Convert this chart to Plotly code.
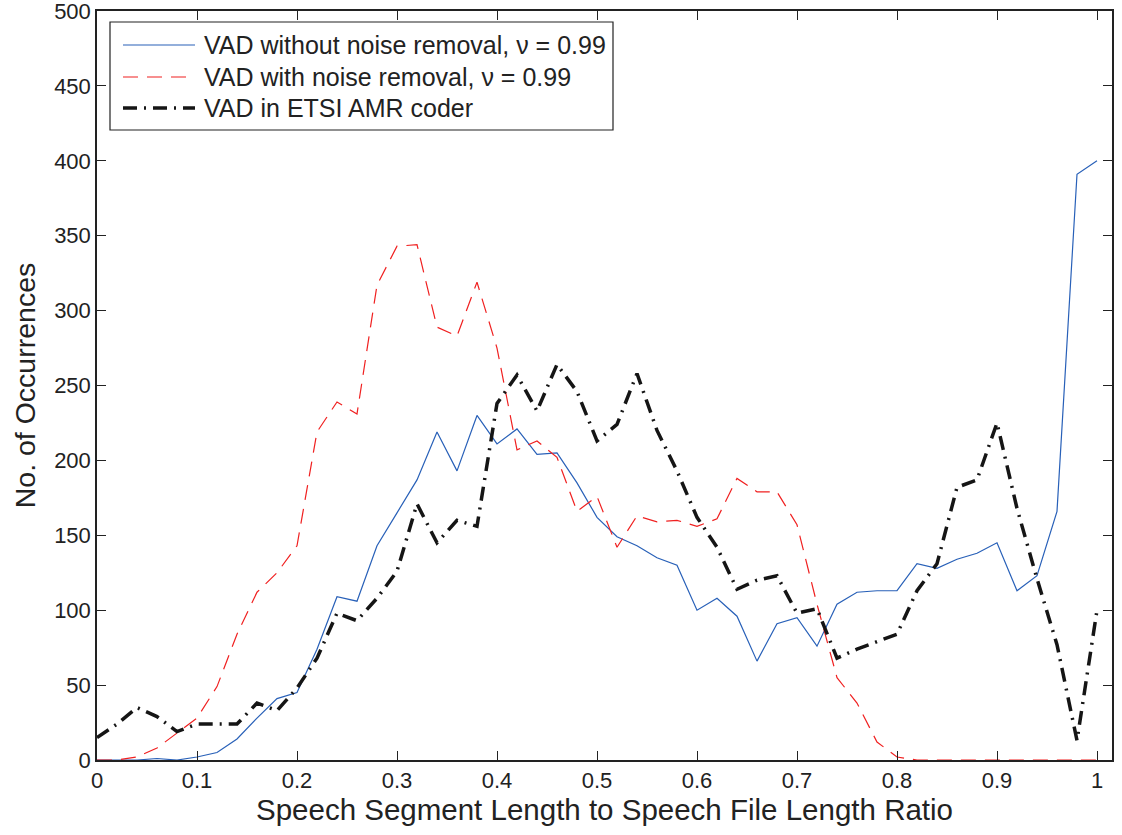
import plotly.graph_objects as go

ratio = [round(i * 0.02, 2) for i in range(51)]

vad_no_nr = [0, 0, 0, 1, 0, 2, 5, 14, 28, 41, 45, 74, 109, 106, 143, 165, 187, 219, 193, 230,
             211, 221, 204, 205, 185, 162, 149, 143, 135, 130, 100, 108, 96, 66, 91, 95, 76, 104,
             112, 113, 113, 131, 128, 134, 138, 145, 113, 123, 166, 391, 400]

vad_nr = [0, 0, 2, 8, 18, 28, 49, 84, 112, 125, 143, 219, 239, 231, 317, 343, 344, 289, 283, 319,
          275, 207, 213, 202, 166, 176, 142, 163, 159, 160, 156, 161, 188, 179, 179, 157, 104, 55,
          38, 12, 2, 0, 0, 0, 0, 0, 0, 0, 0, 0, 0]

vad_amr = [15, 24, 35, 29, 19, 24, 24, 24, 38, 33, 48, 68, 98, 93, 108, 126, 171, 145, 160, 156,
           238, 257, 233, 264, 246, 213, 224, 258, 220, 193, 162, 142, 114, 120, 123, 98, 101, 68,
           74, 79, 84, 113, 131, 182, 187, 225, 168, 121, 77, 13, 100]

names = ["VAD without noise removal, \u03bd = 0.99",
         "VAD with noise removal, \u03bd = 0.99",
         "VAD in ETSI AMR coder"]

x_ticks = [0, 0.1, 0.2, 0.3, 0.4, 0.5, 0.6, 0.7, 0.8, 0.9, 1]
x_tick_text = ["0", "0.1", "0.2", "0.3", "0.4", "0.5", "0.6", "0.7", "0.8", "0.9", "1"]
y_ticks = list(range(0, 501, 50))

FONT = "Liberation Sans, Arial, Helvetica, sans-serif"
TXT = "#222222"

styles = [
    dict(color="#2860b8", width=1.2),
    dict(color="#f02020", width=1.2, dash="15px,9px"),
    dict(color="#151515", width=3.5, dash="14px,7px,2px,7px"),
]
series = [vad_no_nr, vad_nr, vad_amr]

fig = go.Figure()
for nm, ys, st in zip(names, series, styles):
    fig.add_trace(go.Scatter(x=ratio, y=ys, mode="lines", name=nm, line=st, showlegend=False))

axis_common = dict(
    showgrid=False, zeroline=False, showline=True, linecolor=TXT, linewidth=1.5,
    mirror="ticks", ticks="inside", ticklen=9, tickcolor=TXT, tickwidth=1,
    tickfont=dict(family=FONT, size=22, color=TXT), automargin=False,
    ticklabeloverflow="allow",
)

fig.update_layout(
    width=1122, height=835,
    margin=dict(l=97, r=10, t=11, b=75),
    paper_bgcolor="white", plot_bgcolor="white",
    font=dict(family=FONT, color=TXT),
    xaxis=dict(range=[0, 1.015], tickvals=x_ticks, ticktext=x_tick_text,
               title=dict(text="Speech Segment Length to Speech File Length Ratio",
                          font=dict(family=FONT, size=29.5, color=TXT), standoff=7),
               **axis_common),
    yaxis=dict(range=[0, 500], tickvals=y_ticks,
               title=dict(text="No. of Occurrences",
                          font=dict(family=FONT, size=28.5, color=TXT), standoff=10),
               **axis_common),
    showlegend=False,
)

# legend box drawn in paper coordinates (plot area: x 97..1112 px, y 11..760 px)
W, H = 1015.0, 749.0
def px(xp):
    return (xp - 97) / W
def py(yp):
    return (760 - yp) / H

fig.add_shape(type="rect", xref="paper", yref="paper",
              x0=px(110), x1=px(613), y0=py(130), y1=py(22),
              line=dict(color=TXT, width=1.2), fillcolor="white", layer="above")
rows = [45, 77, 108]
for nm, st, r in zip(names, styles, rows):
    fig.add_shape(type="line", xref="paper", yref="paper",
                  x0=px(123), x1=px(195), y0=py(r), y1=py(r),
                  line=st, layer="above")
    fig.add_annotation(xref="paper", yref="paper", x=px(202), y=py(r),
                       xanchor="left", yanchor="middle", showarrow=False,
                       text=nm, font=dict(family=FONT, size=25, color=TXT))

fig.write_html("out.html")
